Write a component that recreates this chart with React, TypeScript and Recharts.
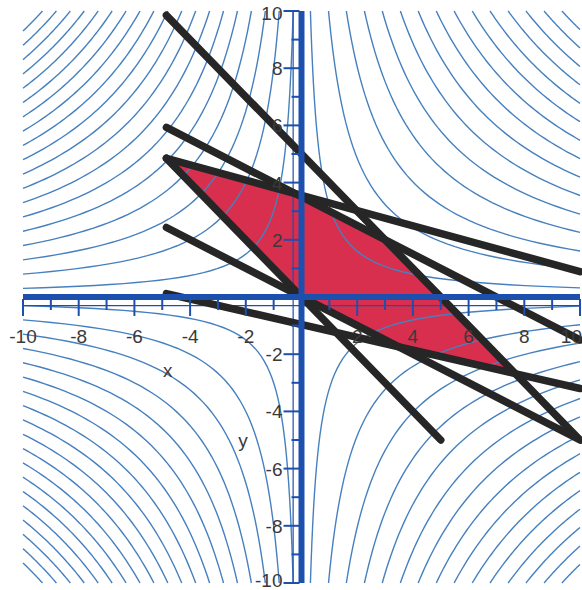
import React from 'react'
import {
  ComposedChart,
  Line,
  Area,
  Scatter,
  XAxis,
  YAxis,
  ReferenceLine,
} from 'recharts'

// contour levels of f(x, y) = x*y (left half / right half of the plot)
const levelsLeft = [3, 8, 13, 18, 23, 28, 33, 38, 43, 48, 53, 58, 63, 68, 73, 78, 83, 88, 93]
const levelsRight = [3.2, 9.7, 16.1, 22.6, 29, 35.5, 41.9, 48.4, 54.8, 61.3, 67.7, 74.2, 80.6, 87.1, 93.5]

// black lines, end points
const lineStarts = [[-4.85, 9.85], [-4.85, 5.93], [-4.85, 4.85], [-4.85, 4.85], [-4.85, 2.43], [-4.85, 0.12]]
const lineEnds = [[9.95, -4.95], [10, -1.5], [10, 0.89], [5, -5], [10, -5], [10, -3.2]]

// red region: upper and lower boundary at each break point
const regionX = [-4.85, -0.24, 0, 3, 3.49, 7.68]
const regionTop = [4.85, 3.62, 3.5, 2, 1.51, -2.68]
const regionBottom = [4.85, 0.24, 0, -1.5, -1.75, -2.68]

const tickValues = [-10, -9, -8, -7, -6, -5, -4, -3, -2, -1, 1, 2, 3, 4, 5, 6, 7, 8, 9, 10]

const AXIS_BLUE = '#1d50ad'
const CONTOUR_BLUE = '#4680bf'
const INK = '#262626'

const samples = Array.from({ length: 48 }, (_, i) => i / 47)

function branch(c: number, sx: number, sy: number) {
  // points of x*y = c inside the [-10, 10] box
  return samples.map((t) => {
    const ax = Math.min(10, (c / 10) * Math.pow(100 / c, t))
    return { x: sx * ax, y: sy * Math.min(10, c / ax) }
  })
}

const contours = [
  ...levelsRight.map((c) => branch(c, 1, 1)),
  ...levelsRight.map((c) => branch(c, 1, -1)),
  ...levelsLeft.map((c) => branch(c, -1, 1)),
  ...levelsLeft.map((c) => branch(c, -1, -1)),
]

const regionData = regionX.map((x, i) => ({ x, range: [regionBottom[i], regionTop[i]] }))

const xTicks = tickValues.map((v) => ({ x: v, y: 0, v }))
const yTicks = tickValues.map((v) => ({ x: 0, y: v, v }))

const labelStyle = { fontFamily: 'Liberation Sans, Arial, sans-serif', fontSize: 19, fill: '#3a3a3a' }

const XTick = (props: any) => {
  const { cx, cy, payload } = props
  const major = payload.v % 2 === 0
  const edge = payload.v === 10
  return (
    <g>
      <line x1={cx} y1={cy + 2} x2={cx} y2={cy + (major ? 19 : 13)} stroke={AXIS_BLUE} strokeWidth={2} />
      {major && (
        <text x={edge ? cx + 2 : cx} y={cy + 46} textAnchor={edge ? 'end' : 'middle'} {...labelStyle}>
          {payload.v}
        </text>
      )}
    </g>
  )
}

const YTick = (props: any) => {
  const { cx, cy, payload } = props
  const major = payload.v % 2 === 0
  const dy = payload.v === -10 ? 4 : payload.v === 10 ? 9 : 7
  return (
    <g>
      <line x1={cx - 2} y1={cy} x2={cx - (major ? 18 : 10)} y2={cy} stroke={AXIS_BLUE} strokeWidth={2} />
      {major && (
        <text x={cx - 19} y={cy + dy} textAnchor="end" {...labelStyle}>
          {payload.v}
        </text>
      )}
    </g>
  )
}

export default function App() {
  return (
    <div style={{ position: 'absolute', left: 0, top: 0, background: '#fff' }}>
      <ComposedChart
        width={582}
        height={590}
        data={regionData}
        margin={{ top: 11, right: 2, left: 23, bottom: 7 }}
      >
        <XAxis type="number" dataKey="x" domain={[-10, 10]} hide />
        <YAxis type="number" dataKey="y" domain={[-10, 10]} hide />
        <Area
          dataKey="range"
          type="linear"
          fill="#d82f4e"
          fillOpacity={1}
          stroke="none"
          isAnimationActive={false}
        />
        {contours.map((pts, i) => (
          <Line
            key={'c' + i}
            data={pts}
            dataKey="y"
            type="linear"
            stroke={CONTOUR_BLUE}
            strokeWidth={1.4}
            dot={false}
            activeDot={false}
            isAnimationActive={false}
          />
        ))}
        <ReferenceLine y={-0.3} stroke={AXIS_BLUE} strokeWidth={1.2} />
        <ReferenceLine x={-0.3} stroke={AXIS_BLUE} strokeWidth={1.2} />
        <Scatter data={xTicks} shape={XTick} isAnimationActive={false} />
        <Scatter data={yTicks} shape={YTick} isAnimationActive={false} />
        {lineStarts.map((s, i) => (
          <Line
            key={'l' + i}
            data={[
              { x: s[0], y: s[1] },
              { x: lineEnds[i][0], y: lineEnds[i][1] },
            ]}
            dataKey="y"
            type="linear"
            stroke={INK}
            strokeWidth={7.5}
            strokeLinecap="round"
            dot={false}
            activeDot={false}
            isAnimationActive={false}
          />
        ))}
        <ReferenceLine x={0} stroke={AXIS_BLUE} strokeWidth={6} />
        <ReferenceLine y={0} stroke={AXIS_BLUE} strokeWidth={6} />
        <ReferenceLine
          segment={[{ x: -4.8, y: -2.55 }, { x: -4.8, y: -2.55 }]}
          stroke="none"
          label={{ value: 'x', position: 'center', ...labelStyle }}
        />
        <ReferenceLine
          segment={[{ x: -2.1, y: -5.0 }, { x: -2.1, y: -5.0 }]}
          stroke="none"
          label={{ value: 'y', position: 'center', ...labelStyle }}
        />
      </ComposedChart>
    </div>
  )
}
